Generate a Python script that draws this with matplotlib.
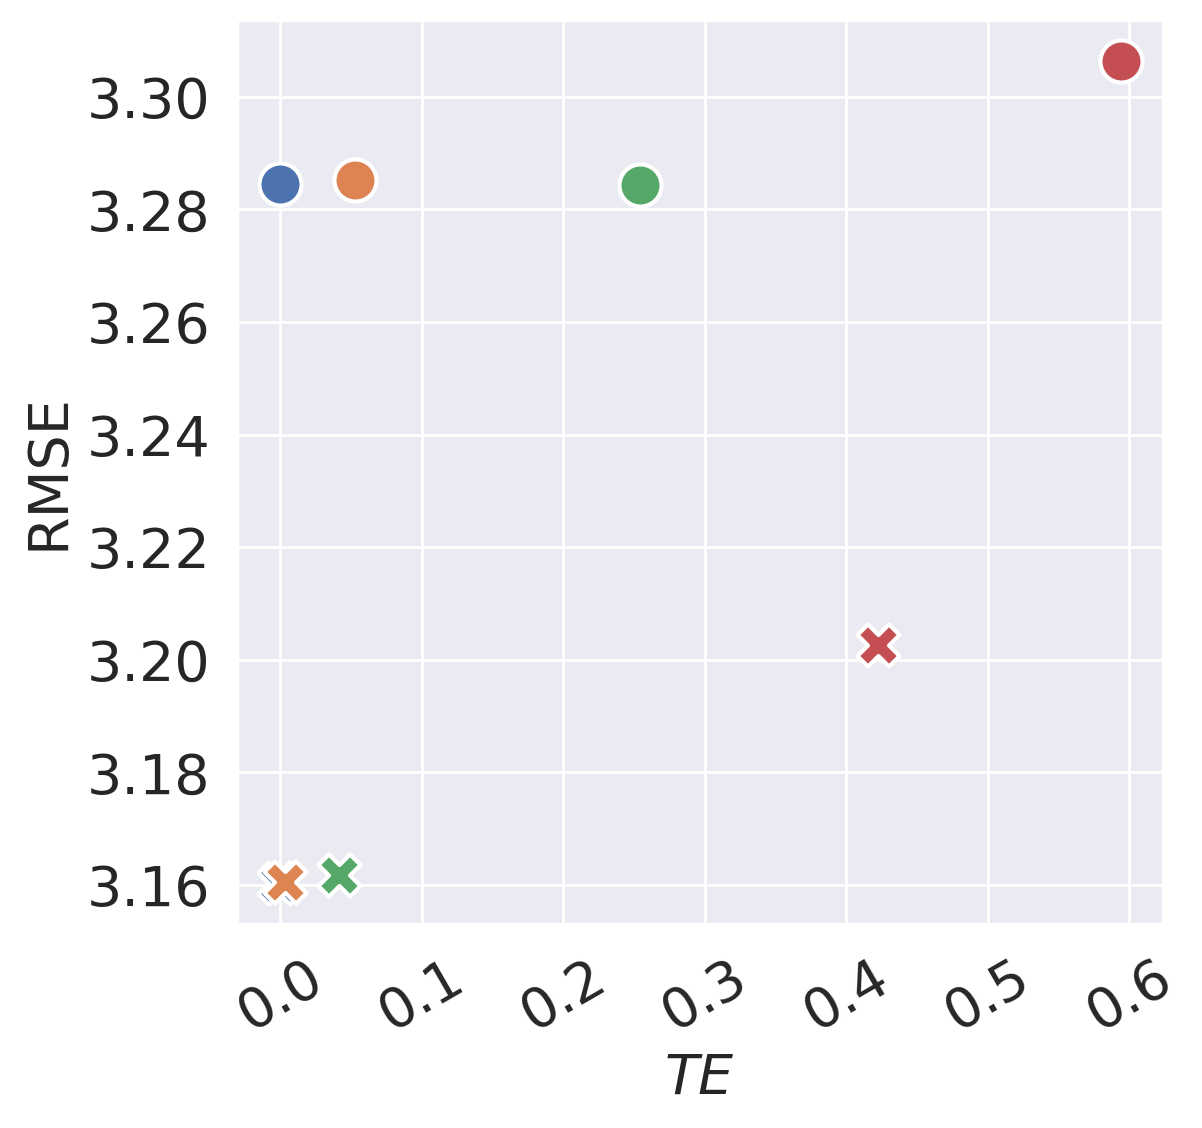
import matplotlib
matplotlib.use("Agg")
import matplotlib.pyplot as plt
import seaborn as sns

sns.set_theme(style="darkgrid")
plt.rcParams['font.family'] = ['DejaVu Sans']

colors = ["#4c72b0", "#dd8452", "#55a868", "#c44e52"]
circle_te = [0.0, 0.0527, 0.254, 0.594]
circle_rmse = [3.2846, 3.2853, 3.2844, 3.3064]
x_te = [-0.0008, 0.0035, 0.042, 0.4226]
x_rmse = [3.1604, 3.1605, 3.1618, 3.2027]

fig = plt.figure(figsize=(6.01, 5.64), dpi=200)
ax = fig.add_axes([0.197, 0.181, 0.7706, 0.8015])

for i in range(4):
    ax.scatter(circle_te[i], circle_rmse[i], s=230, marker="o", color=colors[i],
               edgecolor="white", linewidth=1.5, zorder=3)
for i in range(4):
    ax.scatter(x_te[i], x_rmse[i], s=230, marker="X", color=colors[i],
               edgecolor="white", linewidth=1.5, zorder=3)

ax.set_xticks([0.0, 0.1, 0.2, 0.3, 0.4, 0.5, 0.6])
ax.set_yticks([3.16, 3.18, 3.20, 3.22, 3.24, 3.26, 3.28, 3.30])
ax.set_yticklabels(["3.16", "3.18", "3.20", "3.22", "3.24", "3.26", "3.28", "3.30"])
ax.set_xticklabels(["0.0", "0.1", "0.2", "0.3", "0.4", "0.5", "0.6"])
ax.tick_params(axis='both', labelsize=20)
plt.setp(ax.get_xticklabels(), rotation=30)
ax.set_xlabel("$TE$", fontsize=20)
ax.set_ylabel("RMSE", fontsize=20)

fig.savefig("out.png", dpi=200)
